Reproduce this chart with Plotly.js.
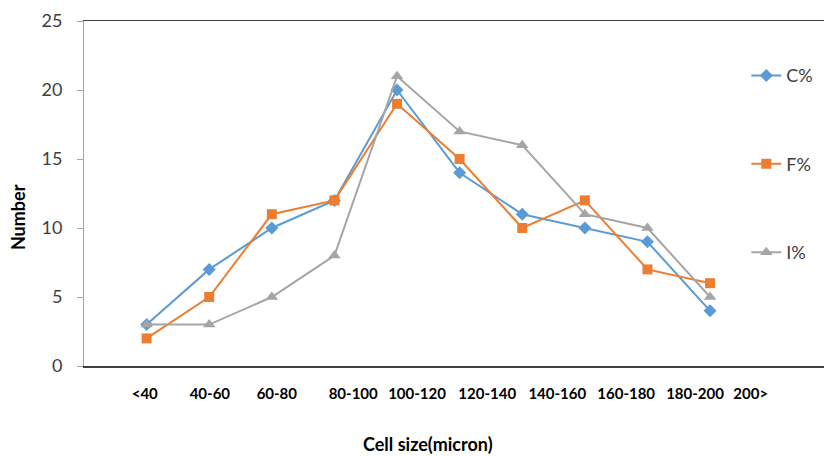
<!DOCTYPE html>
<html>
<head>
<meta charset="utf-8">
<script src="https://cdn.plot.ly/plotly-3.0.1.min.js"></script>
<style>html,body{margin:0;padding:0;background:#fff;}#chart{width:824px;height:456px;}</style>
</head>
<body>
<div id="chart"></div>
<script>
// Data
var categories = ['<40', '40-60', '60-80', '80-100', '100-120', '120-140', '140-160', '160-180', '180-200', '200>'];
var seriesC = [3, 7, 10, 12, 20, 14, 11, 10, 9, 4];
var seriesF = [2, 5, 11, 12, 19, 15, 10, 12, 7, 6];
var seriesI = [3, 3, 5, 8, 21, 17, 16, 11, 10, 5];
var xTitle = 'Cell size(micron)';
var yTitle = 'Number';

// Layout: label offsets (in category units) as they sit under the axis in the reference
var labelShift = [-0.03, 0.01, 0.08, 0.30, 0.32, 0.44, 0.56, 0.66, 0.76, 0.65];
var xIdx = seriesC.map(function (_, i) { return i; });
var tickPos = categories.map(function (_, i) { return i + labelShift[i]; });

var FONT = 'Lato, "Open Sans", sans-serif';

function tr(name, y, color, symbol, size, group) {
  return {
    x: xIdx, y: y, name: name, type: 'scatter', mode: 'lines+markers',
    legendgroup: group,
    line: {color: color, width: 2},
    marker: {color: color, symbol: symbol, size: size}
  };
}

var data = [
  tr('C%', seriesC, '#5b9bd5', 'diamond', 10, 'a'),
  tr('F%', seriesF, '#ed7d31', 'square', 10, 'b'),
  tr('I%', seriesI, '#a5a5a5', 'triangle-up', 11, 'c')
];

var titleFont = {size: 18, color: '#000000', family: FONT, weight: 'bold'};

var layout = {
  width: 824, height: 456,
  margin: {l: 84, r: 0, t: 21, b: 90},
  paper_bgcolor: '#ffffff', plot_bgcolor: '#ffffff',
  font: {family: FONT, color: '#404040'},
  showlegend: true,
  legend: {
    x: 0.895, y: 0.895, xanchor: 'left', yanchor: 'top',
    font: {size: 18, color: '#404040', family: FONT},
    tracegroupgap: 62, bgcolor: 'rgba(0,0,0,0)'
  },
  xaxis: {
    range: [-1, 10.82],
    tickmode: 'array', tickvals: tickPos, ticktext: categories,
    ticks: '', showgrid: false, zeroline: false,
    showline: true, linecolor: '#404040', linewidth: 1.5, mirror: true,
    tickfont: {size: 15, color: '#000000', family: FONT, weight: 'bold'},
    ticklabelstandoff: 13
  },
  yaxis: {
    range: [0, 25], dtick: 5, tick0: 0,
    showgrid: false, zeroline: false,
    showline: true, linecolor: '#a6a6a6', linewidth: 1,
    ticks: 'outside', ticklen: 6, tickcolor: '#a6a6a6',
    tickfont: {size: 18, color: '#404040', family: FONT},
    ticklabelstandoff: 11
  },
  annotations: [
    {text: xTitle, xref: 'paper', yref: 'paper', x: 0.465, y: -0.225,
     xanchor: 'center', yanchor: 'middle', showarrow: false, font: titleFont},
    {text: yTitle, xref: 'paper', yref: 'paper', x: -0.089, y: 0.432, textangle: -90,
     xanchor: 'center', yanchor: 'middle', showarrow: false, font: titleFont}
  ]
};

Plotly.newPlot('chart', data, layout, {displayModeBar: false, staticPlot: true});
</script>
</body>
</html>
